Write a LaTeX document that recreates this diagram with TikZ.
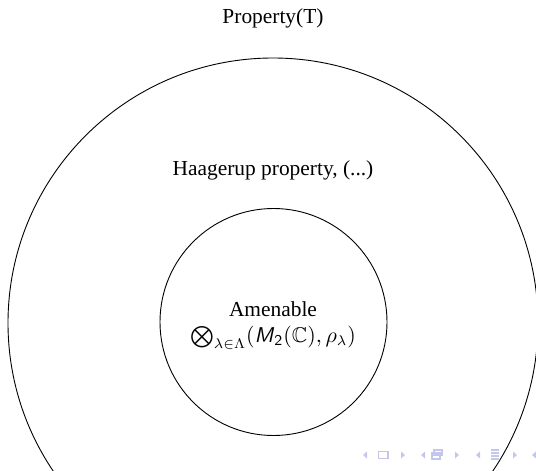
\documentclass[tikz,border=0pt]{standalone}
\usepackage{amsmath,amssymb}
\usepackage{fontspec}
\setmainfont{Liberation Serif}
\usepackage{tikz}
\usetikzlibrary{positioning}
\definecolor{NavLine}{HTML}{C6C6EC}

\begin{document}
\begin{tikzpicture}[x=0.5pt,y=-0.5pt,font=\fontsize{10.7}{12.8}\selectfont,
  ring/.style={draw,circle,inner sep=0pt,line width=0.45pt}]
\useasboundingbox (0,0) rectangle (536,471);
\clip (0,0) rectangle (536,471);
\node[ring,minimum size=265pt] (outer) at (273,323) {};
\node[ring,minimum size=113.5pt] (inner) at (273.5,322) {};
\node (propT) at (273,18) {Property(T)};
\node (haag) at (273,170) {Haagerup property, (...)};
\node (amen) at (273,309) {Amenable};
\node (tensor) at (273,338) {$\bigotimes_{\lambda\in\Lambda}(\textsf{\textit{M}}_{\textsf{2}}(\mathbb{C}),\rho_\lambda)$};
% navigation marks
\foreach \x in {365,423,478,534}
  \fill[NavLine] (\x-2,455) -- (\x+2,451.5) -- (\x+2,458.5) -- cycle;
\foreach \x in {403,457,515}
  \fill[NavLine] (\x+2,455) -- (\x-2,451.5) -- (\x-2,458.5) -- cycle;
\draw[NavLine,line width=0.6pt] (378.5,451.5) rectangle (388,458.5);
\draw[NavLine,line width=0.6pt] (434,450) rectangle (442,455) (432,453) rectangle (440,459);
\foreach \y in {450,453,456,459}
  \draw[NavLine,line width=0.6pt] (491,\y) -- (499,\y);
\end{tikzpicture}
\end{document}
